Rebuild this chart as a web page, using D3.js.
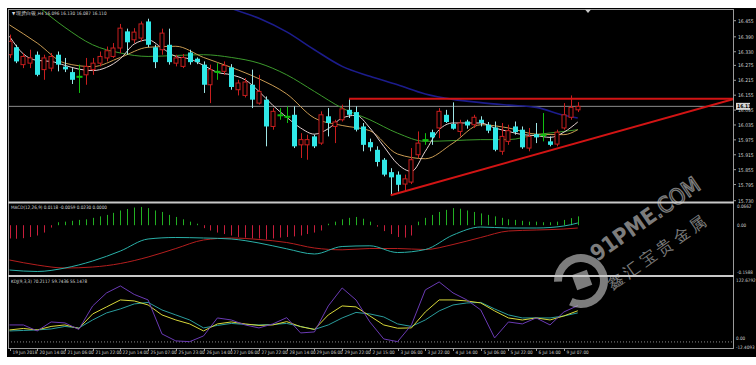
<!DOCTYPE html>
<html>
<head>
<meta charset="utf-8">
<script src="https://cdn.jsdelivr.net/npm/d3@7"></script>
<style>
  body { margin: 0; background: #fff; }
  text { font-family: "Liberation Sans Narrow", "DejaVu Sans Condensed", sans-serif; }
</style>
</head>
<body>
<div id="chart"></div>
<script>
// H4 candles
const opens = [16.318,16.348,16.278,16.284,16.318,16.258,16.264,16.318,16.270,16.248,16.231,16.237,16.258,16.284,16.305,16.311,16.345,16.412,16.378,16.385,
  16.452,16.348,16.338,16.358,16.284,16.271,16.327,16.302,16.278,16.197,16.251,16.251,16.267,16.177,16.154,16.197,16.123,16.137,16.029,16.076,
  16.070,16.076,15.955,15.955,15.989,15.962,16.070,16.029,16.056,16.096,16.087,16.029,15.966,15.935,15.895,15.845,15.835,15.797,15.805,15.915,
  15.976,16.006,16.023,16.076,16.039,16.009,16.049,16.036,16.056,16.036,16.025,15.929,15.969,16.029,16.016,15.942,15.998,15.996,15.969,15.958,
  16.023,16.066,16.096];
const highs = [16.399,16.358,16.325,16.338,16.331,16.318,16.325,16.331,16.305,16.264,16.278,16.305,16.305,16.331,16.351,16.365,16.442,16.423,16.425,16.452,
  16.463,16.358,16.423,16.423,16.318,16.321,16.338,16.307,16.291,16.278,16.284,16.291,16.280,16.217,16.224,16.258,16.237,16.150,16.103,16.103,
  16.110,16.110,16.002,15.996,15.996,16.090,16.103,16.056,16.117,16.141,16.110,16.043,15.980,15.949,15.902,15.861,15.848,15.835,15.942,16.009,
  16.002,16.016,16.103,16.096,16.126,16.056,16.056,16.076,16.070,16.047,16.049,16.043,16.036,16.049,16.029,16.023,16.043,16.083,15.989,16.016,
  16.123,16.154,16.127];
const lows = [16.305,16.284,16.264,16.264,16.231,16.217,16.251,16.251,16.248,16.200,16.164,16.197,16.237,16.271,16.291,16.305,16.325,16.318,16.365,16.372,
  16.348,16.264,16.318,16.278,16.271,16.264,16.278,16.280,16.164,16.123,16.217,16.237,16.177,16.154,16.146,16.103,16.117,15.949,16.016,16.056,
  16.043,15.942,15.902,15.895,15.942,15.955,15.989,15.962,16.049,16.063,16.009,15.929,15.929,15.868,15.828,15.750,15.767,15.767,15.797,15.902,
  15.955,15.955,15.982,16.043,16.016,15.989,16.020,16.023,16.029,16.002,15.929,15.915,15.955,15.996,15.939,15.929,15.962,15.969,15.949,15.949,
  16.016,16.056,16.087];
const closes = [16.372,16.291,16.311,16.305,16.237,16.305,16.311,16.278,16.259,16.217,16.231,16.271,16.284,16.311,16.334,16.345,16.425,16.368,16.409,16.442,
  16.358,16.288,16.405,16.288,16.305,16.307,16.288,16.288,16.197,16.258,16.251,16.275,16.188,16.204,16.208,16.137,16.170,16.029,16.090,16.076,
  16.070,15.949,15.976,15.976,15.949,16.076,16.043,16.047,16.100,16.076,16.016,15.955,15.945,15.886,15.835,15.824,15.794,15.818,15.895,15.962,
  15.976,15.985,16.090,16.047,16.020,16.043,16.033,16.066,16.043,16.012,15.935,15.989,16.012,16.006,15.945,15.989,15.985,15.996,15.955,16.006,
  16.076,16.106,16.110];

// moving averages, sampled every 2 / 4 bars
const fastIdx = d3.range(0, 83, 2);
const maFast = [16.392,16.321,16.295,16.291,16.275,16.260,16.254,16.267,16.302,16.361,16.378,16.345,16.311,16.301,16.275,16.247,16.237,16.217,16.170,16.114,
  16.066,16.023,15.998,16.020,16.063,16.074,16.023,15.949,15.878,15.848,15.929,16.016,16.043,16.043,16.043,16.023,16.009,15.996,15.992,15.985,16.006,16.047];
const slowIdx = [0,4,8,12,16,20,24,28,32,36,40,44,48,52,56,60,64,68,72,76,80,82];
const maOrange = [16.438,16.365,16.284,16.270,16.307,16.348,16.352,16.307,16.267,16.221,16.160,16.063,16.033,16.012,15.918,15.899,15.962,16.036,16.023,15.998,15.996,16.016];
const maGreen = [null,16.515,16.428,16.358,16.325,16.311,16.315,16.318,16.307,16.284,16.237,16.170,16.103,16.056,16.002,15.969,15.972,15.976,15.976,15.996,16.009,16.016];
const maBlue = [null,null,null,null,null,null,null,16.560,16.505,16.465,16.410,16.338,16.271,16.231,16.197,16.160,16.138,16.125,16.115,16.106,16.074,16.063];

// MACD
const macdHist = [-0.045,-0.046,-0.044,-0.040,-0.035,-0.025,-0.008,0.010,0.012,0.015,0.018,0.020,0.025,0.030,0.035,0.042,0.050,0.055,0.060,0.062,
  0.058,0.050,0.045,0.035,0.028,0.020,0.012,0.005,-0.010,-0.018,-0.025,-0.030,-0.035,-0.040,-0.042,-0.045,-0.045,-0.048,-0.045,-0.042,
  -0.040,-0.038,-0.035,-0.030,-0.025,-0.018,0.005,0.012,0.020,0.025,0.028,0.022,0.012,-0.005,-0.020,-0.030,-0.040,-0.042,-0.035,0.012,
  0.025,0.035,0.045,0.052,0.058,0.056,0.050,0.045,0.040,0.035,0.030,0.025,0.020,0.018,0.015,0.012,0.012,0.010,0.010,0.012,
  0.018,0.024,0.030];
const macdMain = [-0.1521,-0.1571,-0.1453,-0.1215,-0.0876,-0.0468,-0.0417,-0.0434,-0.0468,-0.0604,-0.0801,-0.0977,-0.0723,-0.0699,-0.0927,-0.0825,-0.0333,-0.0061,-0.0095,-0.0095,-0.0027,0.0075];
const macdSignal = [-0.1181,-0.1351,-0.1453,-0.1419,-0.1300,-0.1079,-0.0791,-0.0502,-0.0434,-0.0485,-0.0587,-0.0774,-0.0835,-0.0791,-0.0791,-0.0825,-0.0655,-0.0417,-0.0197,-0.0163,-0.0129,-0.0095];

// KDJ, every 2 bars
const kdjIdx = d3.range(0, 83, 2);
const kdjK = [30.7,30.7,18.4,36.8,34.8,21.5,69.6,96.2,110.5,93.1,81.9,12.3,-2.0,-3.5,8.2,45.0,40.9,30.7,24.6,32.8,45.6,
  14.3,16.4,69.6,106.4,81.9,36.8,2.0,-3.5,30.7,102.4,118.7,96.2,81.9,61.4,4.1,36.8,32.8,45.0,30.7,57.3,70.2];
const kdjD = [20.5,23.5,20.5,27.6,30.7,23.5,53.2,67.6,81.9,79.8,71.6,51.2,40.9,32.8,18.4,32.8,36.8,32.8,29.7,30.7,37.5,
  27.2,21.5,51.2,69.6,67.6,49.1,30.7,24.0,24.6,57.3,81.9,81.9,79.8,75.7,59.4,45.0,40.9,45.0,40.9,49.1,59.7];
const kdjJ = [18.4,19.4,20.5,22.5,27.6,24.6,40.9,55.3,63.5,73.7,76.8,61.4,51.2,40.9,24.6,29.7,33.8,31.7,30.7,31.7,33.8,
  27.6,21.5,30.7,45.0,56.3,53.2,47.1,32.8,27.6,40.9,59.4,71.6,75.7,76.8,63.5,51.2,45.0,45.0,45.0,49.1,55.3];

// axis labels
const priceTicks = [16.455,16.390,16.330,16.275,16.215,16.155,16.095,16.035,15.975,15.915,15.855,15.795,15.730];
const timeLabels = ["19 Jun 2018","20 Jun 14:00","21 Jun 06:00","21 Jun 22:00","22 Jun 14:00","25 Jun 07:00","25 Jun 23:00",
  "26 Jun 14:00","27 Jun 06:00","27 Jun 22:00","28 Jun 14:00","29 Jun 06:00","29 Jun 22:00","2 Jul 15:00","3 Jul 06:00",
  "3 Jul 22:00","4 Jul 14:00","5 Jul 06:00","5 Jul 22:00","6 Jul 14:00","9 Jul 07:00"];
const lastPrice = 16.110;
const resistance = { price: 16.141, fromBar: 49 };
const trendLine = [{ bar: 55, price: 15.752 }, { bar: 104.4, price: 16.139 }];

const W = 756, H = 365;
const svg = d3.select("#chart").append("svg").attr("width", W).attr("height", H);

svg.append("rect").attr("width", W).attr("height", H).attr("fill", "#fff");
svg.append("rect").attr("x", 7).attr("y", 8).attr("width", W - 7).attr("height", 349).attr("fill", "#000");

const plotLeft = 8, plotRight = 733;
const x = d3.scaleLinear().domain([0, 104.4]).range([9.5, 733]);
const yPrice = d3.scaleLinear().domain([16.455, 15.730]).range([20.7, 200.7]);
const yMacd = d3.scaleLinear().domain([0.0662, -0.1588]).range([205.7, 272]);
const yKdj = d3.scaleLinear().domain([122.6792, -12.4093]).range([280, 346]);

// clip paths for the three panes
const defs = svg.append("defs");
[["clipMain", 10, 201], ["clipMacd", 204, 274], ["clipKdj", 277, 347]].forEach(([id, y0, y1]) => {
  defs.append("clipPath").attr("id", id).append("rect")
    .attr("x", plotLeft + 1).attr("y", y0).attr("width", plotRight - plotLeft - 1).attr("height", y1 - y0);
});

// frames
const frame = svg.append("g");
frame.append("rect").attr("x", plotLeft + 0.5).attr("y", 9.5).attr("width", plotRight - plotLeft).attr("height", 339)
  .attr("fill", "none").attr("stroke", "#9a9a9a");
[202.5, 276].forEach(yy => {
  frame.append("line").attr("x1", plotLeft).attr("x2", plotRight + 1).attr("y1", yy).attr("y2", yy)
    .attr("stroke", "#c8c8c8").attr("stroke-width", 2);
});

// ---------- main pane ----------
const main = svg.append("g").attr("clip-path", "url(#clipMain)");

// current price line
main.append("line").attr("x1", plotLeft).attr("x2", plotRight)
  .attr("y1", yPrice(lastPrice)).attr("y2", yPrice(lastPrice))
  .attr("stroke", "#8c8c8c").attr("stroke-width", 1);

const maLine = (idx) => d3.line()
  .defined((d) => d != null)
  .x((d, i) => x(idx[i]))
  .y((d) => yPrice(d))
  .curve(d3.curveMonotoneX);

[[maBlue, slowIdx, "#1c1c8c", 1.6], [maGreen, slowIdx, "#3c9a2c", 1], [maOrange, slowIdx, "#c89a52", 1], [maFast, fastIdx, "#e6d2d2", 1]]
  .forEach(([vals, idx, col, w]) => {
    main.append("path").datum(vals).attr("fill", "none").attr("stroke", col).attr("stroke-width", w).attr("d", maLine(idx));
  });

const bars = d3.range(closes.length);
const bull = (i) => closes[i] > opens[i];
const bear = (i) => closes[i] < opens[i];
const candleColor = (i) => bull(i) ? "#c81e1e" : bear(i) ? "#30e8e8" : "#10c010";

main.selectAll(".wick").data(bars).enter().append("line")
  .attr("x1", (i) => Math.round(x(i)) + 0.5).attr("x2", (i) => Math.round(x(i)) + 0.5)
  .attr("y1", (i) => yPrice(highs[i])).attr("y2", (i) => yPrice(lows[i]))
  .attr("stroke", (i) => bear(i) ? "#9fe6e6" : candleColor(i)).attr("stroke-width", 1);

main.selectAll(".body").data(bars).enter().append("rect")
  .attr("x", (i) => Math.round(x(i)) - 2)
  .attr("y", (i) => yPrice(Math.max(opens[i], closes[i])))
  .attr("width", (i) => bull(i) ? 4 : 5)
  .attr("height", (i) => Math.max(1, Math.abs(yPrice(opens[i]) - yPrice(closes[i]))))
  .attr("fill", (i) => bear(i) ? "#30e8e8" : "#000")
  .attr("stroke", (i) => bull(i) ? "#c81e1e" : bear(i) ? "none" : "#10c010")
  .attr("stroke-width", 1);

// drawn objects
main.append("line")
  .attr("x1", x(resistance.fromBar)).attr("x2", plotRight)
  .attr("y1", yPrice(resistance.price)).attr("y2", yPrice(resistance.price))
  .attr("stroke", "#d21414").attr("stroke-width", 2);
main.append("line")
  .attr("x1", x(trendLine[0].bar)).attr("y1", yPrice(trendLine[0].price))
  .attr("x2", x(trendLine[1].bar)).attr("y2", yPrice(trendLine[1].price))
  .attr("stroke", "#d21414").attr("stroke-width", 2);

// price axis
const axisG = svg.append("g");
priceTicks.forEach((p) => {
  axisG.append("line").attr("x1", plotRight).attr("x2", plotRight + 3).attr("y1", yPrice(p)).attr("y2", yPrice(p)).attr("stroke", "#9a9a9a");
  axisG.append("text").attr("x", plotRight + 5).attr("y", yPrice(p) + 2).attr("fill", "#d0d0d0")
    .attr("font-size", 5).text(p.toFixed(3));
});
axisG.append("rect").attr("x", plotRight + 3).attr("y", yPrice(lastPrice) - 3.5).attr("width", 14).attr("height", 7).attr("fill", "#d8d8d8");
axisG.append("text").attr("x", plotRight + 4).attr("y", yPrice(lastPrice) + 2).attr("fill", "#000")
  .attr("font-size", 5).attr("font-weight", "bold").text(lastPrice.toFixed(3));

svg.append("text").attr("x", 12).attr("y", 15).attr("fill", "#d8d8d8").attr("font-size", 4.6)
  .text("▼ 现货白银,H4  16.096 16.130 16.087 16.110");
// chart shift marker
svg.append("path").attr("d", "M585,9.5 L591,9.5 L588,13 Z").attr("fill", "#c8c8c8");

// ---------- MACD pane ----------
const macdG = svg.append("g").attr("clip-path", "url(#clipMacd)");
macdG.selectAll(".hist").data(bars).enter().append("line")
  .attr("x1", (i) => Math.round(x(i)) + 0.5).attr("x2", (i) => Math.round(x(i)) + 0.5)
  .attr("y1", yMacd(0)).attr("y2", (i) => yMacd(macdHist[i]))
  .attr("stroke", (i) => macdHist[i] >= 0 ? "#22b022" : "#c81e3c").attr("stroke-width", 1);

const macdLine = d3.line().x((d, i) => x(slowIdx[i])).y((d) => yMacd(d)).curve(d3.curveMonotoneX);
macdG.append("path").datum(macdSignal).attr("fill", "none").attr("stroke", "#b41e1e").attr("stroke-width", 1).attr("d", macdLine);
macdG.append("path").datum(macdMain).attr("fill", "none").attr("stroke", "#2ab0a8").attr("stroke-width", 1).attr("d", macdLine);

svg.append("text").attr("x", 11).attr("y", 209).attr("fill", "#d8d8d8").attr("font-size", 4.6)
  .text("MACD(12,26,9) 0.0118 -0.0059 0.0230 0.0000");
[[0.0662, "0.0662"], [0, "0.00"], [-0.1588, "-0.1588"]].forEach(([v, t]) => {
  svg.append("text").attr("x", plotRight + 4).attr("y", yMacd(v) + 2).attr("fill", "#d0d0d0").attr("font-size", 4.6).text(t);
});

// ---------- KDJ pane ----------
const kdjG = svg.append("g").attr("clip-path", "url(#clipKdj)");
kdjG.append("line").attr("x1", plotLeft).attr("x2", plotRight).attr("y1", yKdj(0) + 2).attr("y2", yKdj(0) + 2)
  .attr("stroke", "#8a8a8a").attr("stroke-dasharray", "1,2");
const kdjLine = d3.line().x((d, i) => x(kdjIdx[i])).y((d) => yKdj(d));
[[kdjJ, "#2a9c9c"], [kdjD, "#d8d83a"], [kdjK, "#6a3ab4"]].forEach(([vals, col]) => {
  kdjG.append("path").datum(vals).attr("fill", "none").attr("stroke", col).attr("stroke-width", 1).attr("d", kdjLine);
});
svg.append("text").attr("x", 11).attr("y", 283).attr("fill", "#d8d8d8").attr("font-size", 4.6)
  .text("KDJ(9,3,3) 70.2117 59.7436 55.1478");
[[122.6792, "122.6792"], [0, "0.00"], [-12.4093, "-12.4093"]].forEach(([v, t]) => {
  svg.append("text").attr("x", plotRight + 3).attr("y", yKdj(v) + (v < 0 ? 3 : v > 0 ? 2 : 0)).attr("fill", "#d0d0d0").attr("font-size", 4.6).text(t);
});

// ---------- time axis ----------
timeLabels.forEach((t, k) => {
  const xx = Math.round(x(k * 4)) + 0.5;
  svg.append("line").attr("x1", xx).attr("x2", xx).attr("y1", 348).attr("y2", 351).attr("stroke", "#9a9a9a");
  svg.append("text").attr("x", xx + 2).attr("y", 354).attr("fill", "#d0d0d0").attr("font-size", 4.6).text(t);
});

// ---------- watermark ----------
const wm = svg.append("g").attr("opacity", 0.6);
const ring = d3.arc().innerRadius(19).outerRadius(27).startAngle(-1.6).endAngle(3.6);
wm.append("path").attr("d", ring()).attr("transform", "translate(581,281)").attr("fill", "#cfcfcf");
wm.append("rect").attr("x", -8).attr("y", -8).attr("width", 16).attr("height", 16).attr("fill", "#cfcfcf")
  .attr("transform", "translate(582,280) rotate(-20)");
wm.append("text").attr("transform", "translate(597,262) rotate(-35)").attr("font-size", 22).attr("font-weight", "bold")
  .attr("font-family", "Liberation Sans, sans-serif").attr("fill", "#cfcfcf").text("91PME")
  .append("tspan").attr("fill", "none").attr("stroke", "#cfcfcf").attr("stroke-width", 1.2).attr("font-weight", "normal").text(".COM");
wm.append("text").attr("transform", "translate(612,290) rotate(-35)").attr("font-size", 16)
  .attr("font-family", "Noto Sans CJK SC").attr("letter-spacing", 4).attr("fill", "#cfcfcf").text("鑫汇宝贵金属");
</script>
</body>
</html>
